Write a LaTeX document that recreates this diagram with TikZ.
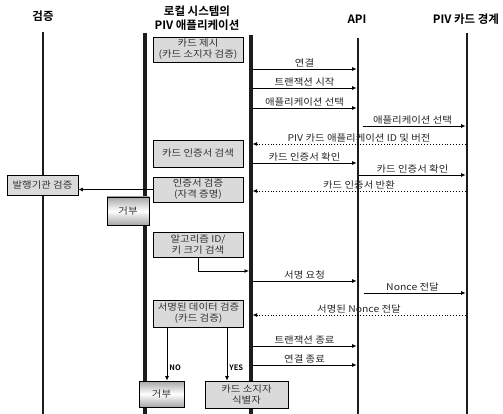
\documentclass[tikz,border=0pt]{standalone}
\usepackage{fontspec}
\setmainfont{Noto Sans CJK KR}[BoldFont={Noto Sans CJK KR Bold}]
\newfontfamily\krwide{Noto Sans CJK KR}[FakeStretch=1.12]
\usetikzlibrary{arrows.meta}
\definecolor{boxgray}{HTML}{DADADA}
\definecolor{inkgray}{HTML}{1C1C1C}

\tikzset{
 life/.style={line width=2.6pt, inkgray},
 lifewide/.style={line width=3.6pt, inkgray},
 head/.style={font=\fontsize{11.5}{14}\selectfont\bfseries, align=center, inner sep=0pt},
 act/.style={draw, line width=0.7pt, fill=boxgray, align=center, inner sep=1pt,
   minimum width=90pt, minimum height=25pt, text=black!80,
   font=\krwide\fontsize{9.3}{11}\selectfont},
 deny/.style={act, top color=gray!70, bottom color=gray!70, middle color=white},
 msg/.style={-{Latex[length=4.5pt,width=4pt]}, line width=0.9pt},
 ret/.style={msg, dotted},
 lbl/.style={above=0.5pt, inner sep=1pt, text=black!85, font=\krwide\fontsize{9.3}{10}\selectfont},
 yn/.style={right, inner sep=2pt, font=\fontsize{7.5}{8}\selectfont\bfseries},
}

\begin{document}
\begin{tikzpicture}[x=1pt, y=-1pt]
 \useasboundingbox (0,0) rectangle (503,414);
 % column heads
 \node[head] (hv) at (43,16) {검증};
 \node[head] (hl) at (197,18) {로컬 시스템의\\PIV 애플리케이션};
 \node[head] (ha) at (357,19) {API};
 \node[head] (hp) at (466,19) {PIV 카드 경계};

 % lifelines
 \coordinate (vT) at (43,32);   \coordinate (vB) at (43,414);
 \coordinate (l1T) at (145,33); \coordinate (l1B) at (145,414);
 \coordinate (l2T) at (251,35); \coordinate (l2B) at (251,414);
 \coordinate (aT) at (358,38);  \coordinate (aB) at (358,414);
 \coordinate (pT) at (467,33);  \coordinate (pB) at (467,414);
 \draw[life] (vT) -- (vB);
 \draw[lifewide] (l1T) -- (l1B);
 \draw[lifewide] (l2T) -- (l2B);
 \draw[life] (aT) -- (aB);
 \draw[life] (pT) -- (pB);

 % message rows
 \coordinate (m1) at (0,69);
 \coordinate (m2) at (0,88);
 \coordinate (m3) at (0,108);
 \coordinate (m4) at (0,126);
 \coordinate (m5) at (0,144);
 \coordinate (m6) at (0,163);
 \coordinate (m7) at (0,175);
 \coordinate (m8) at (0,191);
 \coordinate (m9) at (0,281);
 \coordinate (m10) at (0,293);
 \coordinate (m11) at (0,315);
 \coordinate (m12) at (0,346);
 \coordinate (m13) at (0,365);

 \draw[msg, shorten <=1.5pt, shorten >=1.3pt] (l2T |- m1) -- node[lbl] {연결} (aT |- m1);
 \draw[msg, shorten <=1.5pt, shorten >=1.3pt] (l2T |- m2) -- node[lbl] {트랜잭션 시작} (aT |- m2);
 \draw[msg, shorten <=1.5pt, shorten >=1.3pt] (l2T |- m3) -- node[lbl] {애플리케이션 선택} (aT |- m3);
 \draw[msg, shorten <=5pt, shorten >=1.3pt] (aT |- m4) -- node[lbl] {애플리케이션 선택} (pT |- m4);
 \draw[ret, shorten <=1.3pt, shorten >=1.5pt] (pT |- m5) -- node[lbl] {PIV 카드 애플리케이션 ID 및 버전} (l2T |- m5);
 \draw[msg, shorten <=1.5pt, shorten >=1.3pt] (l2T |- m6) -- node[lbl] {카드 인증서 확인} (aT |- m6);
 \draw[msg, shorten <=1.3pt, shorten >=1.3pt] (aT |- m7) -- node[lbl] {카드 인증서 확인} (pT |- m7);
 \draw[ret, shorten <=1.3pt, shorten >=1.5pt] (pT |- m8) -- node[lbl] {카드 인증서 반환} (l2T |- m8);
 \draw[msg, shorten <=1.5pt, shorten >=1.3pt] (l2T |- m9) -- node[lbl] {서명 요청} (aT |- m9);
 \draw[msg, shorten <=6pt, shorten >=1.3pt] (aT |- m10) -- node[lbl] {Nonce 전달} (pT |- m10);
 \draw[ret, shorten <=1.3pt, shorten >=1.5pt] (pT |- m11) -- node[lbl] {서명된 Nonce 전달} (l2T |- m11);
 \draw[msg, shorten <=1.5pt, shorten >=1.3pt] (l2T |- m12) -- node[lbl] {트랜잭션 종료} (aT |- m12);
 \draw[msg, shorten <=1.5pt, shorten >=1.3pt] (l2T |- m13) -- node[lbl] {연결 종료} (aT |- m13);

 % local steps
 \node[act] (present) at (198,49.5) {카드 제시\\(카드 소지자 검증)};
 \node[act, minimum height=27pt] (getcert) at (198,153.5) {카드 인증서 검색};
 \node[act] (verify) at (198,189.5) {인증서 검증\\(자격 증명)};
 \node[act, minimum width=71pt, minimum height=20pt] (issuer) at (42.5,185) {발행기관 검증};
 \node[deny, minimum width=42pt, minimum height=28pt] (deny1) at (128,211) {거부};
 \node[act] (algo) at (198,244.5) {알고리즘 ID/\\키 크기 검색};
 \node[act, minimum height=27pt] (signchk) at (198.5,313.5) {서명된 데이터 검증\\(카드 검증)};
 \node[deny, minimum width=45pt, minimum height=26pt] (deny2) at (161.5,394) {거부};
 \node[act, minimum width=83pt, minimum height=27pt] (holder) at (246.5,394.5) {카드 소지자\\식별자};

 \coordinate (algoIn) at (249,271);
 \draw[msg] (verify.west) -- (verify.west -| issuer.east);
 \draw[msg] (algo.south) |- (algoIn);
 \draw[msg] ([xshift=-31.5pt]signchk.south) coordinate (noS) -- (noS |- deny2.north)
   node[yn, pos=0.76] {NO};
 \draw[msg] ([xshift=28.5pt]signchk.south) coordinate (yesS) -- (yesS |- holder.north)
   node[yn, pos=0.76] {YES};
\end{tikzpicture}
\end{document}
